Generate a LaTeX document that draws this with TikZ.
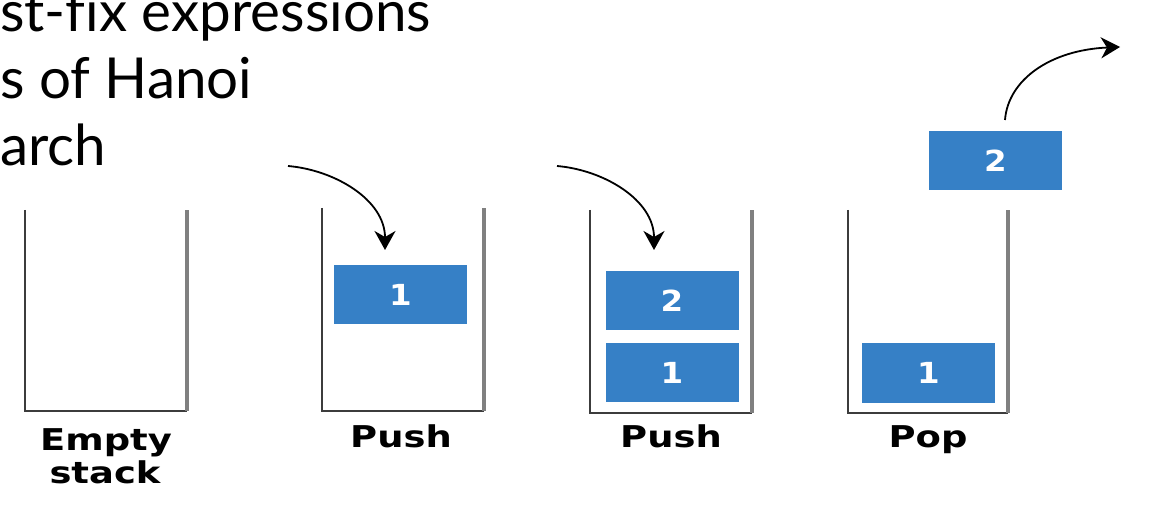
\documentclass[tikz,border=0pt]{standalone}
\usepackage{fontspec}
\setmainfont{Lato}[Ligatures={NoCommon}]
\newfontfamily\lblfont{DejaVu Sans}
\usetikzlibrary{arrows.meta}
\definecolor{boxblue}{RGB}{54,128,198}
\definecolor{walldark}{RGB}{60,60,60}
\definecolor{walllight}{RGB}{128,128,128}
\begin{document}
\begin{tikzpicture}[x=1pt,y=-1pt,
  wallL/.style={line width=2.6pt, draw=walldark, line join=miter},
  wallR/.style={line width=3.6pt, draw=walllight},
  item/.style={fill=boxblue, minimum width=133pt, minimum height=59pt, inner sep=0pt,
    font=\lblfont\bfseries\fontsize{29}{29}\selectfont, text=white},
  lbl/.style={inner sep=0pt, anchor=base, font=\lblfont\bfseries\fontsize{30}{30}\selectfont},
  ttl/.style={inner sep=0pt, anchor=base west, font=\fontsize{56.5}{56.5}\selectfont},
  arr/.style={line width=1.8pt, -{Stealth[length=19pt,width=21pt,inset=6pt]}}]
\useasboundingbox (0,0) rectangle (1172,510);
% title text
\node[ttl] (t1) at (0,32) {st-fix expressions};
\node[ttl] (t2) at (0,99) {s of Hanoi};
\node[ttl] (t3) at (0,166) {arch};
% stack walls
\foreach \l/\r/\t/\b in {25/187/210/411, 322/484/208/411, 590/752/210/413, 848/1008/210/413}{
  \draw[wallL] (\l,\t) -- (\l,\b) -- (\r,\b);
  \draw[wallR] (\r,\b) -- (\r,\t);
}
% items
\node[item] (s2a) at (400.5,295) {\scalebox{1.12}[1]{1}};
\node[item] (s3b) at (672,301) {\scalebox{1.12}[1]{2}};
\node[item] (s3a) at (672,372.5) {\scalebox{1.12}[1]{1}};
\node[item] (s4a) at (928.5,373) {\scalebox{1.12}[1]{1}};
\node[item] (pop) at (995.5,160.5) {\scalebox{1.12}[1]{2}};
% labels
\node[lbl] (l1a) at (106,450) {\scalebox{1.23}[1]{Empty}};
\node[lbl] (l1b) at (105,483) {\scalebox{1.23}[1]{stack}};
\node[lbl] (l2) at (401,447) {\scalebox{1.23}[1]{Push}};
\node[lbl] (l3) at (671,447) {\scalebox{1.23}[1]{Push}};
\node[lbl] (l4) at (928,447) {\scalebox{1.23}[1]{Pop}};
% arrows
\coordinate (a1s) at (288,166);
\coordinate (a1e) at (385,250);
\coordinate (a2s) at (557,166);
\coordinate (a2e) at (654,250);
\coordinate (a3s) at (1005,120);
\coordinate (a3e) at (1120,47);
\draw[arr] (a1s) .. controls (335,170) and (385,200) .. (a1e);
\draw[arr] (a2s) .. controls (604,170) and (654,200) .. (a2e);
\draw[arr] (a3s) .. controls (1008,80) and (1050,50) .. (a3e);
\end{tikzpicture}
\end{document}
